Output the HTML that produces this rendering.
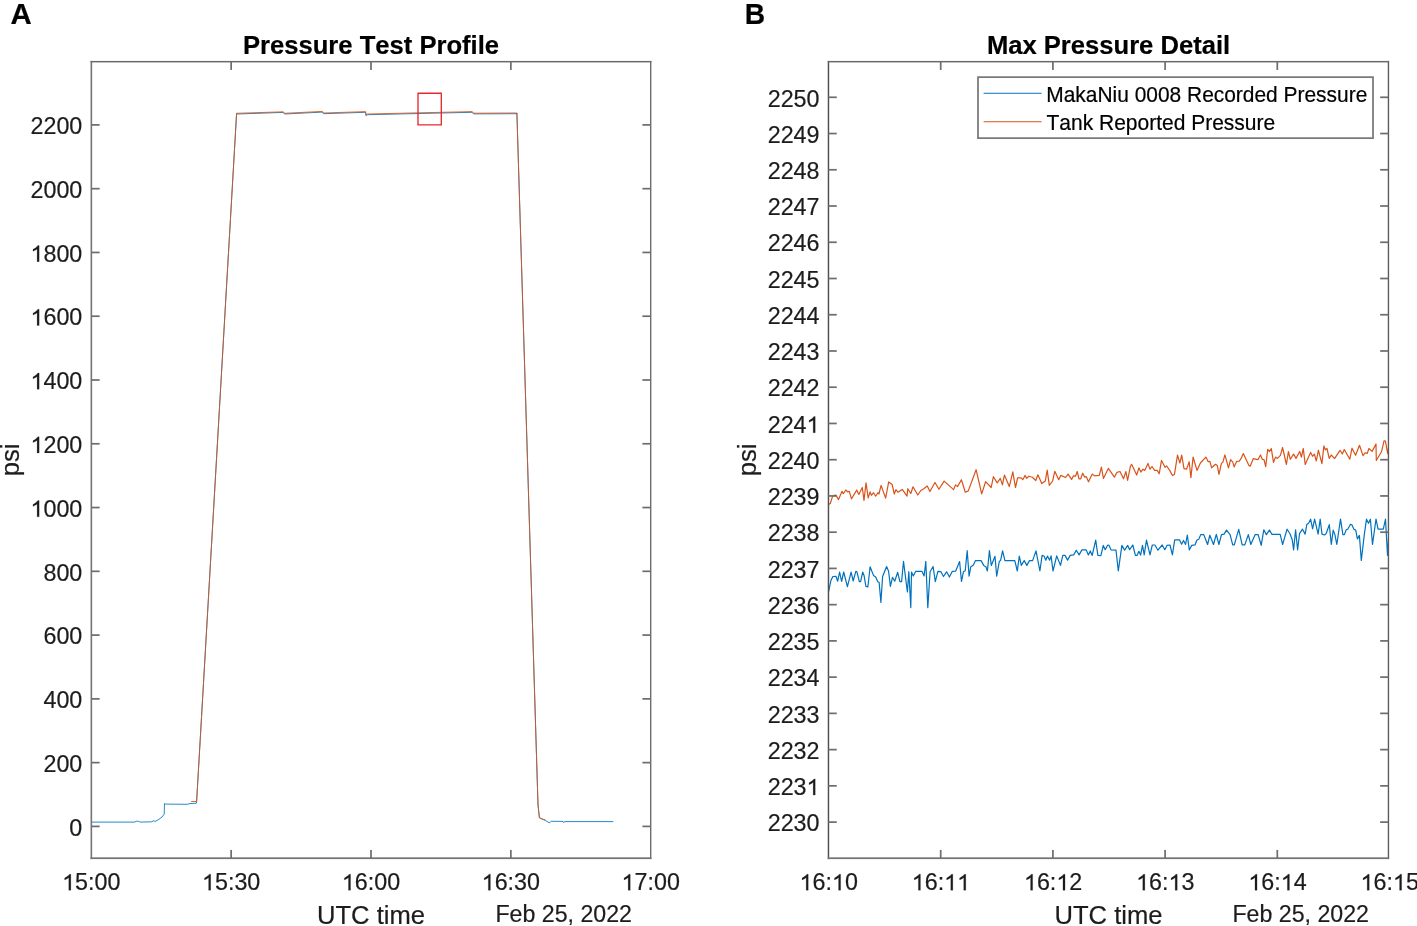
<!DOCTYPE html>
<html><head><meta charset="utf-8"><title>Pressure Test</title>
<style>html,body{margin:0;padding:0;background:#fff;overflow:hidden}svg{display:block;will-change:transform}text{font-kerning:none}</style>
</head><body>
<svg width="1417" height="926" viewBox="0 0 1417 926">
<defs><clipPath id="ca"><rect x="91.5" y="61.5" width="559.0" height="796.2"/></clipPath><clipPath id="cb"><rect x="828.5" y="61.5" width="560.0" height="796.2"/></clipPath></defs>
<rect width="1417" height="926" fill="#fff"/>
<g font-family="Liberation Sans, sans-serif">
<g clip-path="url(#ca)">
<polyline points="91.5,822.1 134.6,822.1 136.3,821.3 138.6,821.3 140.2,822.1 151.5,821.8 153.8,820.7 155.2,821.5 158.9,819.3 162.3,816.7 164.2,814.2 164.5,803.5 165.7,804.1 187.1,804.3 189.9,803.6 196.4,803.2 196.6,801.8 236.6,113.3 237.5,114.0 283.3,112.4 284.5,114.0 322.4,112.1 323.5,113.7 365.6,112.3 365.9,115.6 367.5,114.7 472.3,112.3 473.6,113.9 516.9,113.7 516.9,113.0 538.0,804.8 539.4,817.8 545.4,820.5 549.2,822.8 551.3,821.3 563.0,821.4 563.7,822.6 564.5,821.6 613.4,821.6" fill="none" stroke="#0072BD" stroke-width="0.85" stroke-linejoin="round"/>
<polyline points="191.1,801.5 196.3,801.5 196.6,801.8 236.6,113.3 283.3,111.8 284.5,113.3 322.4,111.4 323.5,113.0 365.6,111.6 365.9,114.6 367.5,114.0 472.3,111.6 473.6,113.2 516.9,113.0 538.0,804.8 539.4,817.6 542.0,819.0 545.4,819.8" fill="none" stroke="#D95319" stroke-width="0.85" stroke-linejoin="round"/>
</g>
<rect x="418.0" y="93.2" width="23.3" height="31.7" fill="none" stroke="#E8282E" stroke-width="1.35" stroke-linejoin="round"/>
<rect x="90.55" y="60.93" width="1.60" height="798.17" fill="#747474"/>
<rect x="650.00" y="60.93" width="1.40" height="798.17" fill="#6c6c6c"/>
<rect x="90.55" y="60.93" width="560.85" height="1.49" fill="#6a6a6a"/>
<rect x="90.55" y="857.32" width="560.85" height="1.78" fill="#757575"/>
<rect x="230.29" y="849.91" width="1.72" height="8.30" fill="#6e6e6e"/>
<rect x="230.29" y="61.67" width="1.72" height="8.30" fill="#6e6e6e"/>
<rect x="370.14" y="849.91" width="1.72" height="8.30" fill="#6e6e6e"/>
<rect x="370.14" y="61.67" width="1.72" height="8.30" fill="#6e6e6e"/>
<rect x="509.99" y="849.91" width="1.72" height="8.30" fill="#6e6e6e"/>
<rect x="509.99" y="61.67" width="1.72" height="8.30" fill="#6e6e6e"/>
<rect x="91.35" y="825.54" width="8.30" height="1.72" fill="#6e6e6e"/>
<rect x="642.40" y="825.54" width="8.30" height="1.72" fill="#6e6e6e"/>
<rect x="91.35" y="761.77" width="8.30" height="1.72" fill="#6e6e6e"/>
<rect x="642.40" y="761.77" width="8.30" height="1.72" fill="#6e6e6e"/>
<rect x="91.35" y="698.00" width="8.30" height="1.72" fill="#6e6e6e"/>
<rect x="642.40" y="698.00" width="8.30" height="1.72" fill="#6e6e6e"/>
<rect x="91.35" y="634.22" width="8.30" height="1.72" fill="#6e6e6e"/>
<rect x="642.40" y="634.22" width="8.30" height="1.72" fill="#6e6e6e"/>
<rect x="91.35" y="570.45" width="8.30" height="1.72" fill="#6e6e6e"/>
<rect x="642.40" y="570.45" width="8.30" height="1.72" fill="#6e6e6e"/>
<rect x="91.35" y="506.68" width="8.30" height="1.72" fill="#6e6e6e"/>
<rect x="642.40" y="506.68" width="8.30" height="1.72" fill="#6e6e6e"/>
<rect x="91.35" y="442.91" width="8.30" height="1.72" fill="#6e6e6e"/>
<rect x="642.40" y="442.91" width="8.30" height="1.72" fill="#6e6e6e"/>
<rect x="91.35" y="379.14" width="8.30" height="1.72" fill="#6e6e6e"/>
<rect x="642.40" y="379.14" width="8.30" height="1.72" fill="#6e6e6e"/>
<rect x="91.35" y="315.36" width="8.30" height="1.72" fill="#6e6e6e"/>
<rect x="642.40" y="315.36" width="8.30" height="1.72" fill="#6e6e6e"/>
<rect x="91.35" y="251.59" width="8.30" height="1.72" fill="#6e6e6e"/>
<rect x="642.40" y="251.59" width="8.30" height="1.72" fill="#6e6e6e"/>
<rect x="91.35" y="187.82" width="8.30" height="1.72" fill="#6e6e6e"/>
<rect x="642.40" y="187.82" width="8.30" height="1.72" fill="#6e6e6e"/>
<rect x="91.35" y="124.05" width="8.30" height="1.72" fill="#6e6e6e"/>
<rect x="642.40" y="124.05" width="8.30" height="1.72" fill="#6e6e6e"/>
<g transform="translate(82.30,835.60) scale(1.0,1.0)"><text x="-12.96" y="0" font-size="23.3" fill="#1c1c1c" stroke="#1c1c1c" stroke-width="0.2">0</text></g>
<g transform="translate(82.30,771.83) scale(1.0,1.0)"><text x="-38.88" y="0" font-size="23.3" fill="#1c1c1c" stroke="#1c1c1c" stroke-width="0.2">200</text></g>
<g transform="translate(82.30,708.06) scale(1.0,1.0)"><text x="-38.88" y="0" font-size="23.3" fill="#1c1c1c" stroke="#1c1c1c" stroke-width="0.2">400</text></g>
<g transform="translate(82.30,644.28) scale(1.0,1.0)"><text x="-38.88" y="0" font-size="23.3" fill="#1c1c1c" stroke="#1c1c1c" stroke-width="0.2">600</text></g>
<g transform="translate(82.30,580.51) scale(1.0,1.0)"><text x="-38.88" y="0" font-size="23.3" fill="#1c1c1c" stroke="#1c1c1c" stroke-width="0.2">800</text></g>
<g transform="translate(82.30,516.74) scale(1.0,1.0)"><text x="-51.83" y="0" font-size="23.3" fill="#1c1c1c" stroke="#1c1c1c" stroke-width="0.2"> 000</text><path transform="translate(-51.83,0) scale(0.01138,-0.01138)" d="M763,0L583,0L583,1120Q518,1060 412,1000Q306,940 221,910L221,1080Q372,1150 485,1250Q598,1350 645,1420L763,1420Z" fill="#1c1c1c" stroke="#1c1c1c" stroke-width="17.6"/></g>
<g transform="translate(82.30,452.97) scale(1.0,1.0)"><text x="-51.83" y="0" font-size="23.3" fill="#1c1c1c" stroke="#1c1c1c" stroke-width="0.2"> 200</text><path transform="translate(-51.83,0) scale(0.01138,-0.01138)" d="M763,0L583,0L583,1120Q518,1060 412,1000Q306,940 221,910L221,1080Q372,1150 485,1250Q598,1350 645,1420L763,1420Z" fill="#1c1c1c" stroke="#1c1c1c" stroke-width="17.6"/></g>
<g transform="translate(82.30,389.20) scale(1.0,1.0)"><text x="-51.83" y="0" font-size="23.3" fill="#1c1c1c" stroke="#1c1c1c" stroke-width="0.2"> 400</text><path transform="translate(-51.83,0) scale(0.01138,-0.01138)" d="M763,0L583,0L583,1120Q518,1060 412,1000Q306,940 221,910L221,1080Q372,1150 485,1250Q598,1350 645,1420L763,1420Z" fill="#1c1c1c" stroke="#1c1c1c" stroke-width="17.6"/></g>
<g transform="translate(82.30,325.42) scale(1.0,1.0)"><text x="-51.83" y="0" font-size="23.3" fill="#1c1c1c" stroke="#1c1c1c" stroke-width="0.2"> 600</text><path transform="translate(-51.83,0) scale(0.01138,-0.01138)" d="M763,0L583,0L583,1120Q518,1060 412,1000Q306,940 221,910L221,1080Q372,1150 485,1250Q598,1350 645,1420L763,1420Z" fill="#1c1c1c" stroke="#1c1c1c" stroke-width="17.6"/></g>
<g transform="translate(82.30,261.65) scale(1.0,1.0)"><text x="-51.83" y="0" font-size="23.3" fill="#1c1c1c" stroke="#1c1c1c" stroke-width="0.2"> 800</text><path transform="translate(-51.83,0) scale(0.01138,-0.01138)" d="M763,0L583,0L583,1120Q518,1060 412,1000Q306,940 221,910L221,1080Q372,1150 485,1250Q598,1350 645,1420L763,1420Z" fill="#1c1c1c" stroke="#1c1c1c" stroke-width="17.6"/></g>
<g transform="translate(82.30,197.88) scale(1.0,1.0)"><text x="-51.83" y="0" font-size="23.3" fill="#1c1c1c" stroke="#1c1c1c" stroke-width="0.2">2000</text></g>
<g transform="translate(82.30,134.11) scale(1.0,1.0)"><text x="-51.83" y="0" font-size="23.3" fill="#1c1c1c" stroke="#1c1c1c" stroke-width="0.2">2200</text></g>
<g transform="translate(91.30,890.30) scale(1.0,1.0)"><text x="-29.15" y="0" font-size="23.3" fill="#1c1c1c" stroke="#1c1c1c" stroke-width="0.2"> 5:00</text><path transform="translate(-29.15,0) scale(0.01138,-0.01138)" d="M763,0L583,0L583,1120Q518,1060 412,1000Q306,940 221,910L221,1080Q372,1150 485,1250Q598,1350 645,1420L763,1420Z" fill="#1c1c1c" stroke="#1c1c1c" stroke-width="17.6"/></g>
<g transform="translate(231.15,890.30) scale(1.0,1.0)"><text x="-29.15" y="0" font-size="23.3" fill="#1c1c1c" stroke="#1c1c1c" stroke-width="0.2"> 5:30</text><path transform="translate(-29.15,0) scale(0.01138,-0.01138)" d="M763,0L583,0L583,1120Q518,1060 412,1000Q306,940 221,910L221,1080Q372,1150 485,1250Q598,1350 645,1420L763,1420Z" fill="#1c1c1c" stroke="#1c1c1c" stroke-width="17.6"/></g>
<g transform="translate(371.00,890.30) scale(1.0,1.0)"><text x="-29.15" y="0" font-size="23.3" fill="#1c1c1c" stroke="#1c1c1c" stroke-width="0.2"> 6:00</text><path transform="translate(-29.15,0) scale(0.01138,-0.01138)" d="M763,0L583,0L583,1120Q518,1060 412,1000Q306,940 221,910L221,1080Q372,1150 485,1250Q598,1350 645,1420L763,1420Z" fill="#1c1c1c" stroke="#1c1c1c" stroke-width="17.6"/></g>
<g transform="translate(510.85,890.30) scale(1.0,1.0)"><text x="-29.15" y="0" font-size="23.3" fill="#1c1c1c" stroke="#1c1c1c" stroke-width="0.2"> 6:30</text><path transform="translate(-29.15,0) scale(0.01138,-0.01138)" d="M763,0L583,0L583,1120Q518,1060 412,1000Q306,940 221,910L221,1080Q372,1150 485,1250Q598,1350 645,1420L763,1420Z" fill="#1c1c1c" stroke="#1c1c1c" stroke-width="17.6"/></g>
<g transform="translate(650.70,890.30) scale(1.0,1.0)"><text x="-29.15" y="0" font-size="23.3" fill="#1c1c1c" stroke="#1c1c1c" stroke-width="0.2"> 7:00</text><path transform="translate(-29.15,0) scale(0.01138,-0.01138)" d="M763,0L583,0L583,1120Q518,1060 412,1000Q306,940 221,910L221,1080Q372,1150 485,1250Q598,1350 645,1420L763,1420Z" fill="#1c1c1c" stroke="#1c1c1c" stroke-width="17.6"/></g>
<text transform="translate(371.00,923.90) scale(1.0,1.01)" font-size="25.6" text-anchor="middle" fill="#1c1c1c" stroke="#1c1c1c" stroke-width="0.2">UTC time</text>
<text transform="translate(632.00,921.90) scale(0.995,1.0)" font-size="23.3" text-anchor="end" fill="#1c1c1c" stroke="#1c1c1c" stroke-width="0.2">Feb 25, 2022</text>
<text transform="translate(18.5,459.8) rotate(-90)" font-size="25.6" text-anchor="middle" fill="#1c1c1c" stroke="#1c1c1c" stroke-width="0.2">psi</text>
<text transform="translate(371.00,54.40) scale(1.0,1.0)" font-size="25.6" text-anchor="middle" fill="#000" stroke="#000" stroke-width="0.2" font-weight="bold">Pressure Test Profile</text>
<text transform="translate(10.40,24.30) scale(1.03,1.035)" font-size="28.5" text-anchor="start" fill="#000" stroke="#000" stroke-width="0.2" font-weight="bold">A</text>
<g clip-path="url(#cb)">
<polyline points="828.6,591.6 830.8,580.8 832.9,576.5 835.9,576.3 837.7,581.2 839.6,572.0 841.6,581.5 843.7,572.0 847.4,586.7 851.1,572.1 853.2,581.0 855.8,571.3 856.9,571.7 859.3,581.7 860.6,581.7 862.7,572.1 864.0,575.2 865.9,586.4 867.9,586.8 870.1,566.8 873.5,575.4 875.7,576.9 877.8,581.7 879.1,582.3 880.9,602.4 882.6,576.5 886.6,566.5 888.6,571.3 890.4,586.4 892.5,577.3 894.7,581.2 897.7,572.3 899.9,581.7 901.6,581.7 903.5,561.4 907.4,592.0 908.8,571.7 910.8,607.6 911.5,572.1 913.3,576.0 915.8,571.3 921.9,571.3 924.1,576.0 925.8,561.4 927.8,607.6 930.1,571.7 933.1,566.5 935.3,581.7 937.9,571.3 940.9,571.7 943.5,576.5 946.6,571.8 949.4,577.0 952.2,571.4 955.7,571.1 959.6,561.5 961.5,581.5 963.4,571.8 965.2,570.8 967.2,550.7 969.1,576.2 970.8,566.7 973.4,564.9 975.5,560.6 981.1,560.6 983.7,565.4 985.9,566.7 987.4,571.0 989.4,550.7 991.3,565.4 995.0,556.3 996.7,576.2 999.3,561.5 1000.6,560.4 1002.6,550.9 1004.9,560.6 1014.8,560.6 1017.3,571.0 1019.3,556.1 1021.3,565.4 1024.2,560.6 1026.8,565.4 1029.5,560.6 1032.6,560.6 1036.0,550.9 1039.9,571.0 1042.1,555.4 1044.2,556.3 1045.8,560.2 1047.5,556.1 1049.6,560.2 1051.1,555.9 1053.0,571.0 1056.7,555.9 1060.5,565.4 1062.8,555.4 1065.0,555.4 1067.6,560.1 1070.2,555.4 1073.7,554.9 1076.3,550.2 1079.1,554.9 1081.9,549.9 1086.2,549.9 1088.4,554.9 1090.3,551.0 1092.2,555.4 1095.7,540.2 1097.9,555.4 1100.9,555.6 1103.3,545.4 1105.2,549.7 1107.8,545.0 1109.1,545.4 1111.1,549.9 1116.0,550.2 1118.3,570.9 1121.9,545.4 1124.6,550.2 1127.7,545.4 1129.6,549.7 1132.8,545.0 1135.4,555.4 1137.0,555.4 1138.9,551.3 1140.6,555.1 1142.5,545.4 1144.2,554.9 1146.5,540.2 1150.0,554.9 1152.3,545.0 1154.9,545.0 1157.9,550.2 1162.2,545.0 1164.8,549.7 1167.0,545.4 1170.0,545.0 1172.4,554.9 1174.7,539.8 1179.5,539.8 1181.6,544.2 1183.5,540.4 1185.6,544.5 1187.3,535.0 1189.3,549.9 1191.7,545.4 1195.1,544.8 1196.8,540.2 1199.0,538.9 1200.7,534.6 1203.8,534.7 1207.6,544.5 1209.8,535.2 1213.5,544.5 1216.3,534.4 1218.9,544.5 1221.5,534.6 1224.1,534.1 1226.5,530.1 1230.1,534.6 1232.7,544.9 1234.3,544.9 1238.7,529.4 1242.2,544.9 1244.8,544.9 1248.3,534.6 1250.8,544.5 1255.2,534.6 1258.2,534.6 1261.2,545.4 1263.8,529.8 1266.4,534.6 1269.4,530.1 1272.0,534.4 1280.2,534.4 1282.6,544.5 1287.1,529.2 1290.0,533.7 1292.2,539.7 1293.6,550.0 1295.6,529.8 1297.6,550.0 1299.5,533.7 1302.5,529.2 1305.1,534.1 1306.8,524.6 1308.6,523.3 1310.6,519.2 1312.6,528.9 1314.6,519.2 1318.1,534.1 1320.2,519.2 1322.0,534.1 1324.6,535.0 1326.3,533.3 1329.3,524.6 1331.3,544.5 1333.2,530.2 1334.9,534.6 1336.8,544.5 1340.5,519.2 1342.9,534.6 1344.4,534.6 1346.2,529.8 1347.7,529.2 1350.5,524.2 1352.0,525.1 1353.9,529.2 1355.7,530.1 1357.4,538.9 1359.4,535.4 1361.3,560.5 1364.3,534.6 1366.5,519.2 1368.5,523.3 1370.4,519.2 1372.5,544.5 1376.0,519.2 1378.1,529.2 1383.3,529.2 1385.5,519.2 1387.5,555.3 1389.4,524.2" fill="none" stroke="#0072BD" stroke-width="1.2" stroke-linejoin="round"/>
<polyline points="828.6,504.4 830.3,503.5 832.5,496.6 834.2,495.3 835.9,495.1 838.5,499.6 842.0,491.4 843.3,493.6 845.9,490.0 847.6,491.9 849.3,491.4 851.5,498.8 856.7,490.1 858.8,494.5 862.3,487.5 864.0,500.5 866.0,482.8 868.2,497.9 870.1,491.9 871.4,495.3 873.5,492.7 875.7,496.2 877.9,492.7 878.9,494.0 881.1,485.4 885.6,498.1 888.7,481.9 892.1,484.5 894.3,494.0 895.9,489.6 897.9,492.2 902.2,489.4 907.0,496.1 907.8,488.7 910.8,493.5 913.0,486.8 917.8,495.0 920.8,490.5 923.8,488.7 927.3,486.0 929.9,491.5 935.0,482.5 938.9,489.2 944.1,481.1 953.6,489.6 955.5,484.9 957.5,486.6 961.4,479.7 965.3,492.2 968.3,490.9 976.1,469.7 981.7,493.9 985.6,481.7 991.2,487.5 993.4,476.7 997.2,482.9 1000.3,478.4 1002.4,484.9 1004.4,475.1 1009.3,486.6 1012.8,471.9 1015.5,487.5 1017.6,477.9 1021.1,477.9 1022.8,479.7 1025.0,475.4 1026.7,478.4 1028.8,476.2 1032.3,477.3 1035.8,480.5 1037.9,474.8 1041.8,483.6 1045.3,481.1 1047.2,470.2 1049.3,485.3 1052.6,481.0 1054.8,471.3 1058.7,479.7 1060.8,475.4 1065.6,477.5 1068.0,474.1 1071.6,479.4 1073.5,475.8 1075.5,476.2 1077.2,471.5 1079.0,478.8 1080.7,478.8 1082.7,473.2 1084.6,477.1 1086.3,476.7 1088.5,481.8 1092.3,474.1 1094.5,475.8 1099.3,475.4 1101.4,467.1 1103.4,478.4 1108.3,468.4 1114.4,477.1 1117.0,472.3 1120.0,471.5 1123.5,478.8 1125.9,471.5 1127.6,480.5 1130.4,466.3 1131.6,464.3 1133.9,469.1 1136.7,475.1 1138.9,467.8 1140.8,472.1 1143.0,469.2 1144.7,470.4 1148.0,463.4 1150.0,469.2 1152.0,466.5 1154.6,470.4 1157.2,470.4 1159.2,473.8 1161.5,460.4 1165.0,467.3 1166.7,466.0 1169.7,470.4 1172.5,475.5 1174.5,474.2 1177.5,455.2 1179.9,463.0 1181.7,455.2 1184.0,468.6 1186.6,469.1 1189.2,461.7 1190.9,477.7 1193.1,457.0 1197.0,470.4 1200.4,463.0 1205.9,457.1 1208.2,461.7 1209.9,461.3 1211.6,467.8 1215.5,464.3 1217.3,465.6 1219.0,474.4 1221.4,463.4 1222.9,462.1 1224.9,454.8 1228.5,467.8 1230.6,459.6 1232.8,462.1 1234.1,466.9 1236.7,461.3 1239.3,461.1 1241.0,458.7 1243.3,453.5 1248.8,465.2 1250.2,466.2 1253.2,458.7 1257.9,459.7 1260.5,455.0 1262.3,459.3 1264.0,459.7 1265.7,466.7 1267.7,449.4 1269.4,451.5 1271.3,448.5 1273.5,462.3 1275.5,457.1 1277.4,458.4 1280.4,455.4 1282.6,447.5 1286.4,464.5 1288.4,451.5 1290.3,459.3 1293.6,454.1 1296.0,458.4 1299.7,451.5 1301.4,457.1 1303.3,448.5 1305.2,464.5 1310.6,452.4 1312.6,456.3 1314.4,454.1 1316.3,461.0 1318.4,450.1 1321.9,463.6 1323.9,445.9 1325.3,449.8 1327.0,448.5 1329.2,458.4 1331.3,455.0 1334.5,458.6 1340.0,450.3 1342.3,454.0 1344.3,449.5 1349.8,459.2 1352.0,448.2 1355.6,455.3 1359.5,445.3 1363.0,455.6 1365.3,452.7 1367.3,453.4 1368.9,448.5 1372.1,451.4 1376.0,444.0 1376.3,460.5 1381.5,451.8 1384.1,440.7 1385.4,441.1 1387.7,453.7 1389.3,443.0" fill="none" stroke="#D95319" stroke-width="1.2" stroke-linejoin="round"/>
</g>
<rect x="827.73" y="60.93" width="1.47" height="798.17" fill="#505050"/>
<rect x="1387.76" y="60.93" width="1.37" height="798.17" fill="#5a5a5a"/>
<rect x="827.73" y="60.93" width="561.40" height="1.49" fill="#6a6a6a"/>
<rect x="827.73" y="857.32" width="561.40" height="1.78" fill="#757575"/>
<rect x="939.84" y="849.91" width="1.72" height="8.30" fill="#6e6e6e"/>
<rect x="939.84" y="61.67" width="1.72" height="8.30" fill="#6e6e6e"/>
<rect x="1052.04" y="849.91" width="1.72" height="8.30" fill="#6e6e6e"/>
<rect x="1052.04" y="61.67" width="1.72" height="8.30" fill="#6e6e6e"/>
<rect x="1164.24" y="849.91" width="1.72" height="8.30" fill="#6e6e6e"/>
<rect x="1164.24" y="61.67" width="1.72" height="8.30" fill="#6e6e6e"/>
<rect x="1276.44" y="849.91" width="1.72" height="8.30" fill="#6e6e6e"/>
<rect x="1276.44" y="61.67" width="1.72" height="8.30" fill="#6e6e6e"/>
<rect x="828.47" y="821.24" width="8.30" height="1.72" fill="#6e6e6e"/>
<rect x="1380.15" y="821.24" width="8.30" height="1.72" fill="#6e6e6e"/>
<rect x="828.47" y="785.00" width="8.30" height="1.72" fill="#6e6e6e"/>
<rect x="1380.15" y="785.00" width="8.30" height="1.72" fill="#6e6e6e"/>
<rect x="828.47" y="748.76" width="8.30" height="1.72" fill="#6e6e6e"/>
<rect x="1380.15" y="748.76" width="8.30" height="1.72" fill="#6e6e6e"/>
<rect x="828.47" y="712.52" width="8.30" height="1.72" fill="#6e6e6e"/>
<rect x="1380.15" y="712.52" width="8.30" height="1.72" fill="#6e6e6e"/>
<rect x="828.47" y="676.28" width="8.30" height="1.72" fill="#6e6e6e"/>
<rect x="1380.15" y="676.28" width="8.30" height="1.72" fill="#6e6e6e"/>
<rect x="828.47" y="640.04" width="8.30" height="1.72" fill="#6e6e6e"/>
<rect x="1380.15" y="640.04" width="8.30" height="1.72" fill="#6e6e6e"/>
<rect x="828.47" y="603.80" width="8.30" height="1.72" fill="#6e6e6e"/>
<rect x="1380.15" y="603.80" width="8.30" height="1.72" fill="#6e6e6e"/>
<rect x="828.47" y="567.56" width="8.30" height="1.72" fill="#6e6e6e"/>
<rect x="1380.15" y="567.56" width="8.30" height="1.72" fill="#6e6e6e"/>
<rect x="828.47" y="531.32" width="8.30" height="1.72" fill="#6e6e6e"/>
<rect x="1380.15" y="531.32" width="8.30" height="1.72" fill="#6e6e6e"/>
<rect x="828.47" y="495.08" width="8.30" height="1.72" fill="#6e6e6e"/>
<rect x="1380.15" y="495.08" width="8.30" height="1.72" fill="#6e6e6e"/>
<rect x="828.47" y="458.84" width="8.30" height="1.72" fill="#6e6e6e"/>
<rect x="1380.15" y="458.84" width="8.30" height="1.72" fill="#6e6e6e"/>
<rect x="828.47" y="422.60" width="8.30" height="1.72" fill="#6e6e6e"/>
<rect x="1380.15" y="422.60" width="8.30" height="1.72" fill="#6e6e6e"/>
<rect x="828.47" y="386.36" width="8.30" height="1.72" fill="#6e6e6e"/>
<rect x="1380.15" y="386.36" width="8.30" height="1.72" fill="#6e6e6e"/>
<rect x="828.47" y="350.12" width="8.30" height="1.72" fill="#6e6e6e"/>
<rect x="1380.15" y="350.12" width="8.30" height="1.72" fill="#6e6e6e"/>
<rect x="828.47" y="313.88" width="8.30" height="1.72" fill="#6e6e6e"/>
<rect x="1380.15" y="313.88" width="8.30" height="1.72" fill="#6e6e6e"/>
<rect x="828.47" y="277.64" width="8.30" height="1.72" fill="#6e6e6e"/>
<rect x="1380.15" y="277.64" width="8.30" height="1.72" fill="#6e6e6e"/>
<rect x="828.47" y="241.40" width="8.30" height="1.72" fill="#6e6e6e"/>
<rect x="1380.15" y="241.40" width="8.30" height="1.72" fill="#6e6e6e"/>
<rect x="828.47" y="205.16" width="8.30" height="1.72" fill="#6e6e6e"/>
<rect x="1380.15" y="205.16" width="8.30" height="1.72" fill="#6e6e6e"/>
<rect x="828.47" y="168.92" width="8.30" height="1.72" fill="#6e6e6e"/>
<rect x="1380.15" y="168.92" width="8.30" height="1.72" fill="#6e6e6e"/>
<rect x="828.47" y="132.68" width="8.30" height="1.72" fill="#6e6e6e"/>
<rect x="1380.15" y="132.68" width="8.30" height="1.72" fill="#6e6e6e"/>
<rect x="828.47" y="96.44" width="8.30" height="1.72" fill="#6e6e6e"/>
<rect x="1380.15" y="96.44" width="8.30" height="1.72" fill="#6e6e6e"/>
<g transform="translate(819.50,831.30) scale(1.0,1.0)"><text x="-51.83" y="0" font-size="23.3" fill="#1c1c1c" stroke="#1c1c1c" stroke-width="0.2">2230</text></g>
<g transform="translate(819.50,795.06) scale(1.0,1.0)"><text x="-51.83" y="0" font-size="23.3" fill="#1c1c1c" stroke="#1c1c1c" stroke-width="0.2">223 </text><path transform="translate(-12.96,0) scale(0.01138,-0.01138)" d="M763,0L583,0L583,1120Q518,1060 412,1000Q306,940 221,910L221,1080Q372,1150 485,1250Q598,1350 645,1420L763,1420Z" fill="#1c1c1c" stroke="#1c1c1c" stroke-width="17.6"/></g>
<g transform="translate(819.50,758.82) scale(1.0,1.0)"><text x="-51.83" y="0" font-size="23.3" fill="#1c1c1c" stroke="#1c1c1c" stroke-width="0.2">2232</text></g>
<g transform="translate(819.50,722.58) scale(1.0,1.0)"><text x="-51.83" y="0" font-size="23.3" fill="#1c1c1c" stroke="#1c1c1c" stroke-width="0.2">2233</text></g>
<g transform="translate(819.50,686.34) scale(1.0,1.0)"><text x="-51.83" y="0" font-size="23.3" fill="#1c1c1c" stroke="#1c1c1c" stroke-width="0.2">2234</text></g>
<g transform="translate(819.50,650.10) scale(1.0,1.0)"><text x="-51.83" y="0" font-size="23.3" fill="#1c1c1c" stroke="#1c1c1c" stroke-width="0.2">2235</text></g>
<g transform="translate(819.50,613.86) scale(1.0,1.0)"><text x="-51.83" y="0" font-size="23.3" fill="#1c1c1c" stroke="#1c1c1c" stroke-width="0.2">2236</text></g>
<g transform="translate(819.50,577.62) scale(1.0,1.0)"><text x="-51.83" y="0" font-size="23.3" fill="#1c1c1c" stroke="#1c1c1c" stroke-width="0.2">2237</text></g>
<g transform="translate(819.50,541.38) scale(1.0,1.0)"><text x="-51.83" y="0" font-size="23.3" fill="#1c1c1c" stroke="#1c1c1c" stroke-width="0.2">2238</text></g>
<g transform="translate(819.50,505.14) scale(1.0,1.0)"><text x="-51.83" y="0" font-size="23.3" fill="#1c1c1c" stroke="#1c1c1c" stroke-width="0.2">2239</text></g>
<g transform="translate(819.50,468.90) scale(1.0,1.0)"><text x="-51.83" y="0" font-size="23.3" fill="#1c1c1c" stroke="#1c1c1c" stroke-width="0.2">2240</text></g>
<g transform="translate(819.50,432.66) scale(1.0,1.0)"><text x="-51.83" y="0" font-size="23.3" fill="#1c1c1c" stroke="#1c1c1c" stroke-width="0.2">224 </text><path transform="translate(-12.96,0) scale(0.01138,-0.01138)" d="M763,0L583,0L583,1120Q518,1060 412,1000Q306,940 221,910L221,1080Q372,1150 485,1250Q598,1350 645,1420L763,1420Z" fill="#1c1c1c" stroke="#1c1c1c" stroke-width="17.6"/></g>
<g transform="translate(819.50,396.42) scale(1.0,1.0)"><text x="-51.83" y="0" font-size="23.3" fill="#1c1c1c" stroke="#1c1c1c" stroke-width="0.2">2242</text></g>
<g transform="translate(819.50,360.18) scale(1.0,1.0)"><text x="-51.83" y="0" font-size="23.3" fill="#1c1c1c" stroke="#1c1c1c" stroke-width="0.2">2243</text></g>
<g transform="translate(819.50,323.94) scale(1.0,1.0)"><text x="-51.83" y="0" font-size="23.3" fill="#1c1c1c" stroke="#1c1c1c" stroke-width="0.2">2244</text></g>
<g transform="translate(819.50,287.70) scale(1.0,1.0)"><text x="-51.83" y="0" font-size="23.3" fill="#1c1c1c" stroke="#1c1c1c" stroke-width="0.2">2245</text></g>
<g transform="translate(819.50,251.46) scale(1.0,1.0)"><text x="-51.83" y="0" font-size="23.3" fill="#1c1c1c" stroke="#1c1c1c" stroke-width="0.2">2246</text></g>
<g transform="translate(819.50,215.22) scale(1.0,1.0)"><text x="-51.83" y="0" font-size="23.3" fill="#1c1c1c" stroke="#1c1c1c" stroke-width="0.2">2247</text></g>
<g transform="translate(819.50,178.98) scale(1.0,1.0)"><text x="-51.83" y="0" font-size="23.3" fill="#1c1c1c" stroke="#1c1c1c" stroke-width="0.2">2248</text></g>
<g transform="translate(819.50,142.74) scale(1.0,1.0)"><text x="-51.83" y="0" font-size="23.3" fill="#1c1c1c" stroke="#1c1c1c" stroke-width="0.2">2249</text></g>
<g transform="translate(819.50,106.50) scale(1.0,1.0)"><text x="-51.83" y="0" font-size="23.3" fill="#1c1c1c" stroke="#1c1c1c" stroke-width="0.2">2250</text></g>
<g transform="translate(828.70,890.30) scale(1.0,1.0)"><text x="-29.15" y="0" font-size="23.3" fill="#1c1c1c" stroke="#1c1c1c" stroke-width="0.2"> 6: 0</text><path transform="translate(-29.15,0) scale(0.01138,-0.01138)" d="M763,0L583,0L583,1120Q518,1060 412,1000Q306,940 221,910L221,1080Q372,1150 485,1250Q598,1350 645,1420L763,1420Z" fill="#1c1c1c" stroke="#1c1c1c" stroke-width="17.6"/><path transform="translate(3.24,0) scale(0.01138,-0.01138)" d="M763,0L583,0L583,1120Q518,1060 412,1000Q306,940 221,910L221,1080Q372,1150 485,1250Q598,1350 645,1420L763,1420Z" fill="#1c1c1c" stroke="#1c1c1c" stroke-width="17.6"/></g>
<g transform="translate(940.90,890.30) scale(1.0,1.0)"><text x="-29.15" y="0" font-size="23.3" fill="#1c1c1c" stroke="#1c1c1c" stroke-width="0.2"> 6:  </text><path transform="translate(-29.15,0) scale(0.01138,-0.01138)" d="M763,0L583,0L583,1120Q518,1060 412,1000Q306,940 221,910L221,1080Q372,1150 485,1250Q598,1350 645,1420L763,1420Z" fill="#1c1c1c" stroke="#1c1c1c" stroke-width="17.6"/><path transform="translate(3.24,0) scale(0.01138,-0.01138)" d="M763,0L583,0L583,1120Q518,1060 412,1000Q306,940 221,910L221,1080Q372,1150 485,1250Q598,1350 645,1420L763,1420Z" fill="#1c1c1c" stroke="#1c1c1c" stroke-width="17.6"/><path transform="translate(16.20,0) scale(0.01138,-0.01138)" d="M763,0L583,0L583,1120Q518,1060 412,1000Q306,940 221,910L221,1080Q372,1150 485,1250Q598,1350 645,1420L763,1420Z" fill="#1c1c1c" stroke="#1c1c1c" stroke-width="17.6"/></g>
<g transform="translate(1053.10,890.30) scale(1.0,1.0)"><text x="-29.15" y="0" font-size="23.3" fill="#1c1c1c" stroke="#1c1c1c" stroke-width="0.2"> 6: 2</text><path transform="translate(-29.15,0) scale(0.01138,-0.01138)" d="M763,0L583,0L583,1120Q518,1060 412,1000Q306,940 221,910L221,1080Q372,1150 485,1250Q598,1350 645,1420L763,1420Z" fill="#1c1c1c" stroke="#1c1c1c" stroke-width="17.6"/><path transform="translate(3.24,0) scale(0.01138,-0.01138)" d="M763,0L583,0L583,1120Q518,1060 412,1000Q306,940 221,910L221,1080Q372,1150 485,1250Q598,1350 645,1420L763,1420Z" fill="#1c1c1c" stroke="#1c1c1c" stroke-width="17.6"/></g>
<g transform="translate(1165.30,890.30) scale(1.0,1.0)"><text x="-29.15" y="0" font-size="23.3" fill="#1c1c1c" stroke="#1c1c1c" stroke-width="0.2"> 6: 3</text><path transform="translate(-29.15,0) scale(0.01138,-0.01138)" d="M763,0L583,0L583,1120Q518,1060 412,1000Q306,940 221,910L221,1080Q372,1150 485,1250Q598,1350 645,1420L763,1420Z" fill="#1c1c1c" stroke="#1c1c1c" stroke-width="17.6"/><path transform="translate(3.24,0) scale(0.01138,-0.01138)" d="M763,0L583,0L583,1120Q518,1060 412,1000Q306,940 221,910L221,1080Q372,1150 485,1250Q598,1350 645,1420L763,1420Z" fill="#1c1c1c" stroke="#1c1c1c" stroke-width="17.6"/></g>
<g transform="translate(1277.50,890.30) scale(1.0,1.0)"><text x="-29.15" y="0" font-size="23.3" fill="#1c1c1c" stroke="#1c1c1c" stroke-width="0.2"> 6: 4</text><path transform="translate(-29.15,0) scale(0.01138,-0.01138)" d="M763,0L583,0L583,1120Q518,1060 412,1000Q306,940 221,910L221,1080Q372,1150 485,1250Q598,1350 645,1420L763,1420Z" fill="#1c1c1c" stroke="#1c1c1c" stroke-width="17.6"/><path transform="translate(3.24,0) scale(0.01138,-0.01138)" d="M763,0L583,0L583,1120Q518,1060 412,1000Q306,940 221,910L221,1080Q372,1150 485,1250Q598,1350 645,1420L763,1420Z" fill="#1c1c1c" stroke="#1c1c1c" stroke-width="17.6"/></g>
<g transform="translate(1389.70,890.30) scale(1.0,1.0)"><text x="-29.15" y="0" font-size="23.3" fill="#1c1c1c" stroke="#1c1c1c" stroke-width="0.2"> 6: 5</text><path transform="translate(-29.15,0) scale(0.01138,-0.01138)" d="M763,0L583,0L583,1120Q518,1060 412,1000Q306,940 221,910L221,1080Q372,1150 485,1250Q598,1350 645,1420L763,1420Z" fill="#1c1c1c" stroke="#1c1c1c" stroke-width="17.6"/><path transform="translate(3.24,0) scale(0.01138,-0.01138)" d="M763,0L583,0L583,1120Q518,1060 412,1000Q306,940 221,910L221,1080Q372,1150 485,1250Q598,1350 645,1420L763,1420Z" fill="#1c1c1c" stroke="#1c1c1c" stroke-width="17.6"/></g>
<text transform="translate(1108.50,923.90) scale(1.0,1.01)" font-size="25.6" text-anchor="middle" fill="#1c1c1c" stroke="#1c1c1c" stroke-width="0.2">UTC time</text>
<text transform="translate(1369.00,921.90) scale(0.995,1.0)" font-size="23.3" text-anchor="end" fill="#1c1c1c" stroke="#1c1c1c" stroke-width="0.2">Feb 25, 2022</text>
<text transform="translate(755.5,459.8) rotate(-90)" font-size="25.6" text-anchor="middle" fill="#1c1c1c" stroke="#1c1c1c" stroke-width="0.2">psi</text>
<text transform="translate(1108.50,54.40) scale(1.0,1.0)" font-size="25.6" text-anchor="middle" fill="#000" stroke="#000" stroke-width="0.2" font-weight="bold">Max Pressure Detail</text>
<text transform="translate(744.65,24.30) scale(0.99,1.035)" font-size="28.5" text-anchor="start" fill="#000" stroke="#000" stroke-width="0.2" font-weight="bold">B</text>
<rect x="978.0" y="77.15" width="395.0" height="61.0" fill="#fff" stroke="#787878" stroke-width="1.75"/>
<path d="M983.6,93.26H1041.6" stroke="#0072BD" stroke-width="1.0"/>
<path d="M983.6,121.82H1041.6" stroke="#D95319" stroke-width="1.05"/>
<text transform="translate(1046.30,102.00) scale(0.997,1.06)" font-size="21" text-anchor="start" fill="#000" stroke="#000" stroke-width="0.2">MakaNiu 0008 Recorded Pressure</text>
<text transform="translate(1046.50,130.00) scale(1.0,1.06)" font-size="21" text-anchor="start" fill="#000" stroke="#000" stroke-width="0.2">Tank Reported Pressure</text>
</g></svg>
</body></html>
